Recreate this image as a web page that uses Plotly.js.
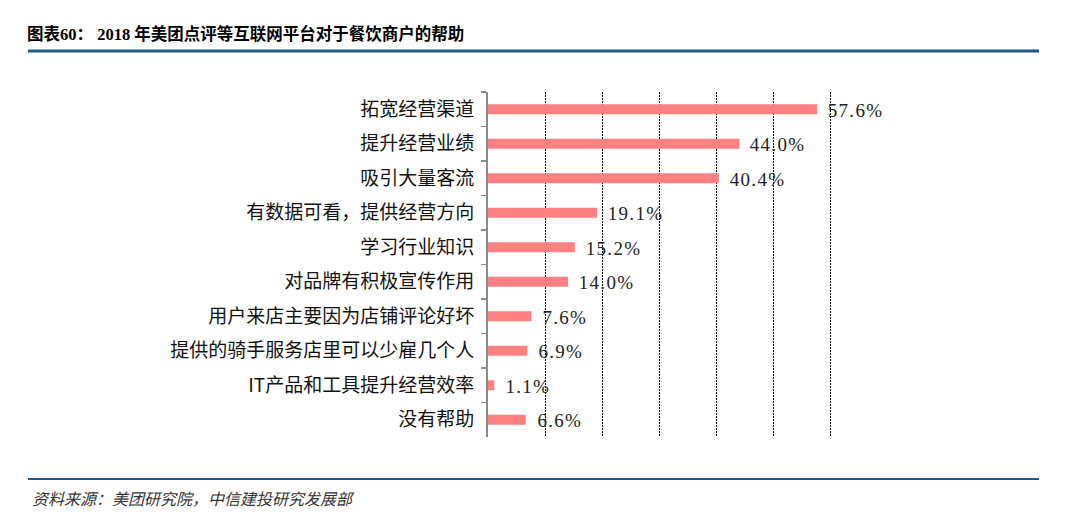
<!DOCTYPE html>
<html>
<head>
<meta charset="utf-8">
<script src="https://cdn.plot.ly/plotly-3.0.1.min.js"></script>
<style>
html,body{margin:0;padding:0;background:#fff;}
#chart{width:1080px;height:527px;}
g.annotation:not([data-index="10"]) text{letter-spacing:1.3px;}
</style>
</head>
<body>
<div id="chart"></div>
<script>
const categories = ["拓宽经营渠道","提升经营业绩","吸引大量客流","有数据可看，提供经营方向","学习行业知识","对品牌有积极宣传作用","用户来店主要因为店铺评论好坏","提供的骑手服务店里可以少雇几个人","IT产品和工具提升经营效率","没有帮助"];
const values = [57.6, 44.0, 40.4, 19.1, 15.2, 14.0, 7.6, 6.9, 1.1, 6.6];
const titleText = "图表60： 2018 年美团点评等互联网平台对于餐饮商户的帮助";
const sourceText = "资料来源：美团研究院，中信建投研究发展部";

const W = 1080, H = 527;
const L = 488, R = 888, T = 92, B = 437;
const px = x => (x - L) / (R - L);
const py = y => (B - y) / (B - T);

const labelAnn = categories.map((c, i) => ({
  x: values[i], y: c, xref: 'x', yref: 'y',
  text: values[i].toFixed(1) + '%', showarrow: false,
  xanchor: 'left', yanchor: 'middle', xshift: 12, yshift: -1,
  font: {family: 'Liberation Serif, serif', size: 19, color: '#222'}
}));

const data = [{
  type: 'bar', orientation: 'h',
  x: values, y: categories,
  marker: {color: '#FF8080'},
  hoverinfo: 'none'
}];

const layout = {
  width: W, height: H,
  margin: {l: L, r: W - R, t: T, b: H - B, pad: 0},
  paper_bgcolor: '#fff', plot_bgcolor: '#fff',
  showlegend: false,
  bargap: 0.71,
  title: {
    text: titleText, x: 27 / W, xanchor: 'left', xref: 'container',
    y: 1 - 34 / H, yanchor: 'middle', yref: 'container',
    font: {family: 'Liberation Serif, Noto Sans CJK SC, serif', size: 16.5, color: '#000', weight: 'bold'}
  },
  xaxis: {
    range: [0, 70], dtick: 10, tick0: 0,
    showgrid: true, gridcolor: '#000', gridwidth: 1, griddash: '2px,1px',
    showticklabels: false, zeroline: false, showline: false, ticks: '',
    fixedrange: true
  },
  yaxis: {
    autorange: 'reversed', type: 'category',
    showline: true, linecolor: '#8a8a8a', linewidth: 2,
    ticks: 'outside', tickson: 'boundaries', ticklen: 5, tickcolor: '#8a8a8a', tickwidth: 1.5,
    ticklabelstandoff: 8,
    tickfont: {family: 'Noto Sans CJK SC, sans-serif', size: 19, color: '#111'},
    showgrid: false, zeroline: false, fixedrange: true
  },
  shapes: [
    {type: 'line', xref: 'paper', yref: 'paper', x0: px(28), x1: px(1039), y0: py(51), y1: py(51),
     line: {color: '#1B5A8A', width: 3}},
    {type: 'line', xref: 'paper', yref: 'paper', x0: px(28), x1: px(1039), y0: py(479), y1: py(479),
     line: {color: '#1B5A8A', width: 2}}
  ],
  annotations: labelAnn.concat([{
    xref: 'paper', yref: 'paper', x: px(30), y: py(498),
    xanchor: 'left', yanchor: 'middle', showarrow: false,
    text: '<i>' + sourceText + '</i>',
    font: {family: 'Noto Sans CJK SC, sans-serif', size: 16, color: '#333'}
  }])
};

Plotly.newPlot('chart', data, layout, {displayModeBar: false, staticPlot: true});
</script>
</body>
</html>
